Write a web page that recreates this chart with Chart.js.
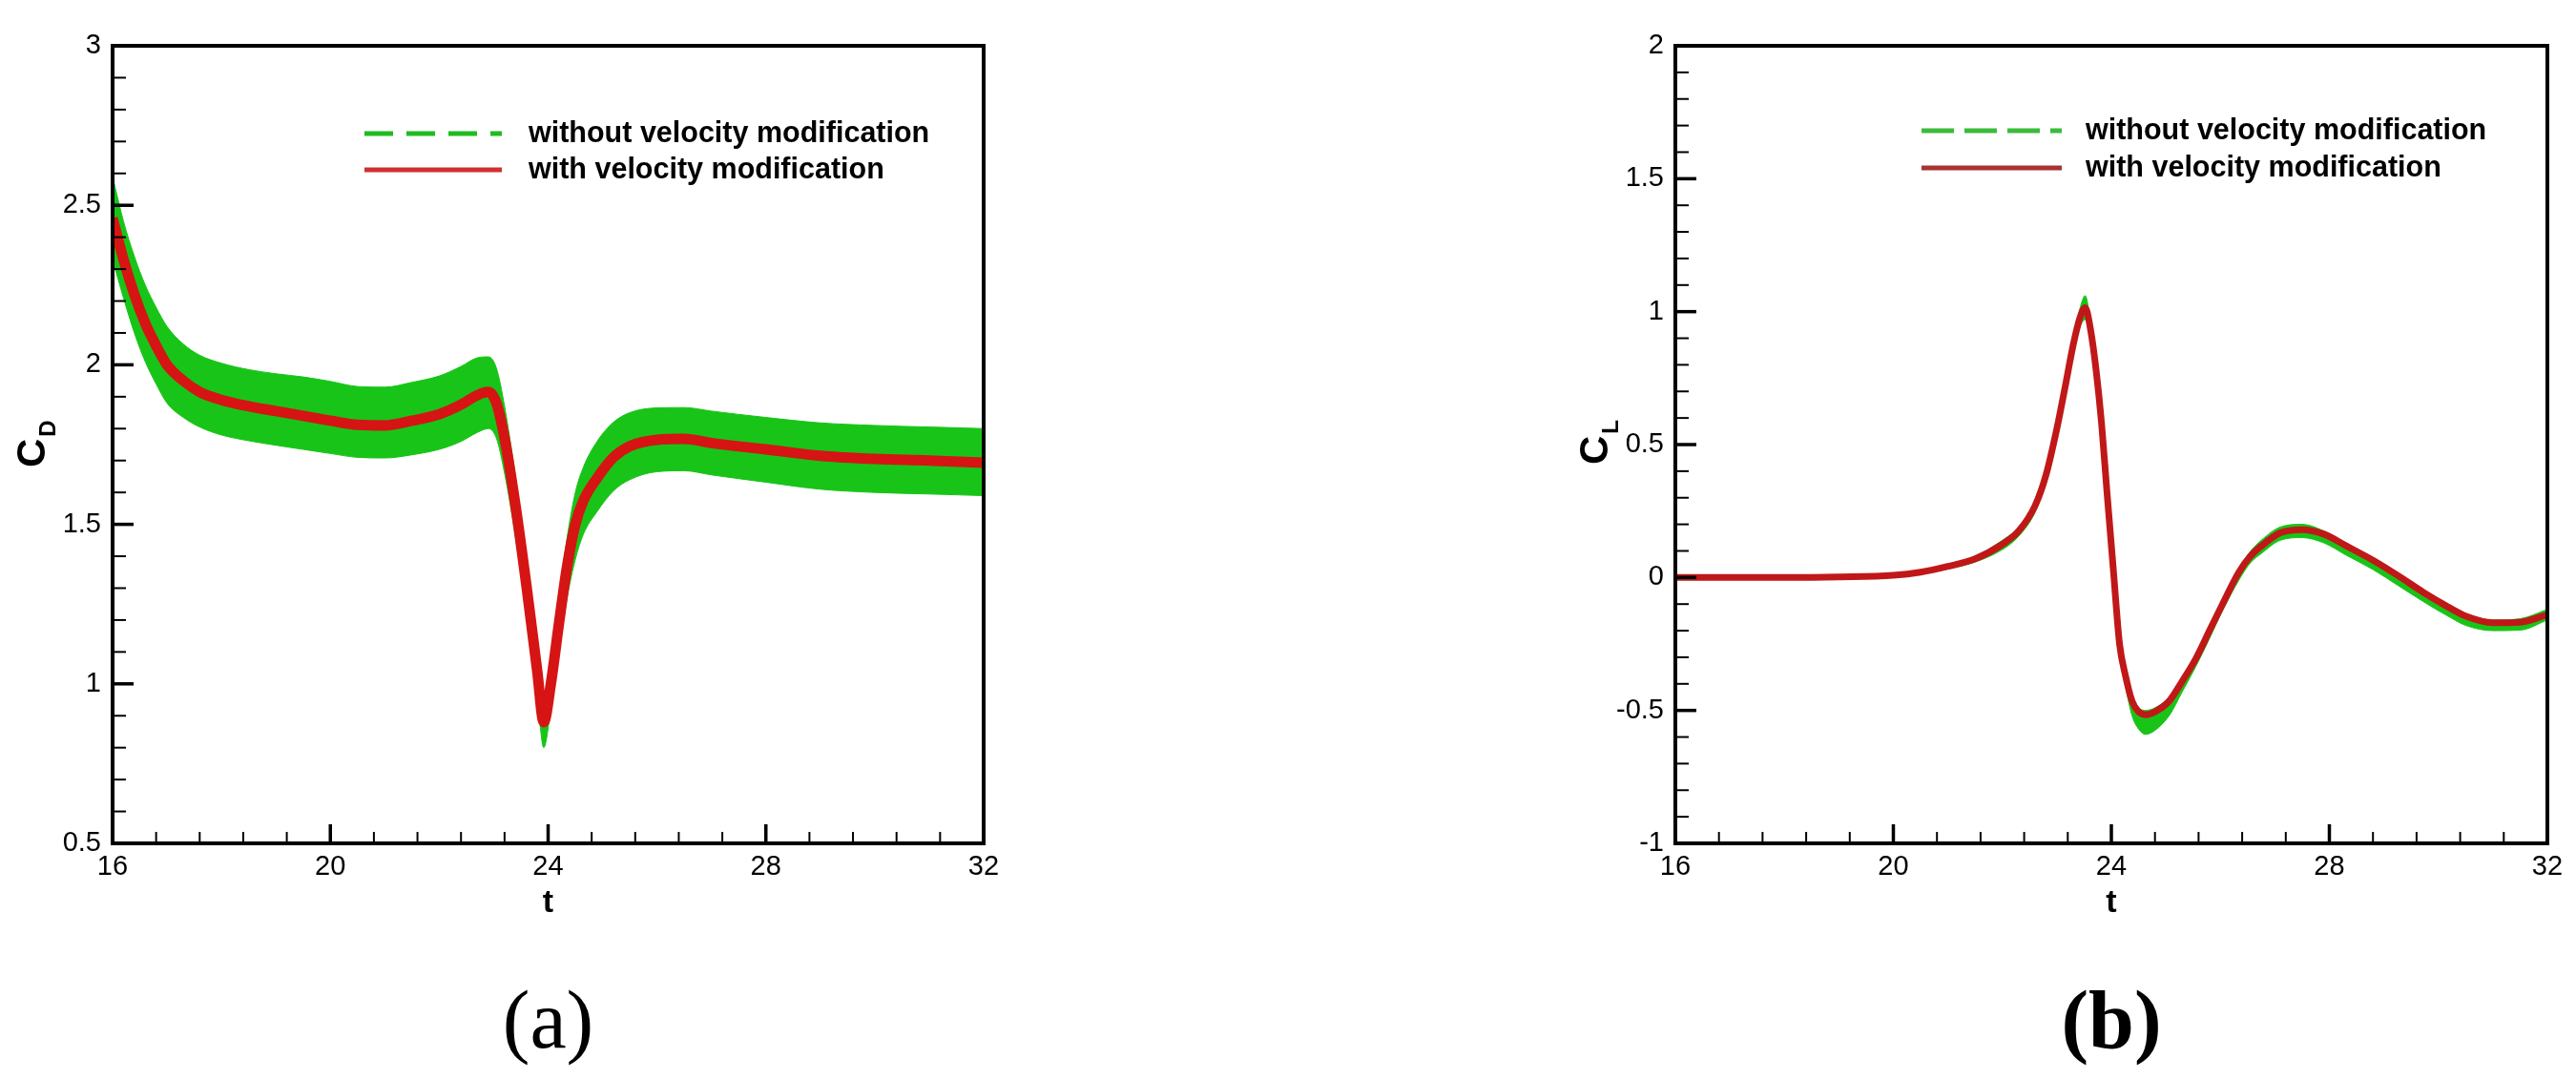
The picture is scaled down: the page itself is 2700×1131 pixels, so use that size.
<!DOCTYPE html>
<html>
<head>
<meta charset="utf-8">
<title>Drag and lift coefficients</title>
<script src="https://cdn.jsdelivr.net/npm/chart.js@4.4.1/dist/chart.umd.min.js"></script>
<style>
html, body { margin:0; padding:0; background:#fff; }
#page { position:relative; width:2700px; height:1131px; overflow:hidden; background:#fff; }
canvas { position:absolute; top:0; }
#cdChart { left:0; }
#clChart { left:1350px; }
</style>
</head>
<body>
<div id="page">
<canvas id="cdChart" width="1350" height="1131"></canvas>
<canvas id="clChart" width="1350" height="1131"></canvas>
</div>
<script>

/* DRAG COEFFICIENT, PANEL (a) */

const cdTime = [16.0, 16.2, 16.4, 16.6, 16.8, 17.0, 17.3, 17.6, 18.0, 18.5, 19.0, 19.5, 20.0, 20.5, 21.0, 21.5, 22.0, 22.4, 22.7, 22.9, 23.05, 23.2, 23.4, 23.6, 23.8, 23.92, 24.05, 24.2, 24.35, 24.5, 24.65, 24.9, 25.2, 25.5, 26.0, 26.5, 27.0, 28.0, 29.0, 30.0, 31.0, 32.0];

const cdWithMod = [2.46, 2.33, 2.22, 2.13, 2.06, 2.00, 1.95, 1.915, 1.89, 1.87, 1.855, 1.84, 1.825, 1.812, 1.81, 1.825, 1.845, 1.875, 1.905, 1.915, 1.88, 1.77, 1.56, 1.31, 1.04, 0.88, 1.00, 1.19, 1.37, 1.50, 1.575, 1.645, 1.71, 1.745, 1.765, 1.768, 1.755, 1.735, 1.715, 1.705, 1.70, 1.693];

// upper and lower edge of the oscillating green band
const cdWithoutHigh = [2.59, 2.45, 2.34, 2.25, 2.18, 2.12, 2.065, 2.03, 2.005, 1.985, 1.972, 1.962, 1.948, 1.932, 1.93, 1.945, 1.965, 1.995, 2.022, 2.025, 1.99, 1.87, 1.65, 1.39, 1.11, 0.95, 1.07, 1.27, 1.46, 1.60, 1.68, 1.76, 1.82, 1.85, 1.865, 1.866, 1.855, 1.835, 1.818, 1.81, 1.805, 1.80];

const cdWithoutLow = [2.33, 2.21, 2.10, 2.01, 1.94, 1.88, 1.835, 1.805, 1.78, 1.762, 1.748, 1.735, 1.722, 1.71, 1.708, 1.718, 1.735, 1.76, 1.788, 1.80, 1.77, 1.66, 1.46, 1.22, 0.96, 0.80, 0.92, 1.10, 1.27, 1.39, 1.47, 1.54, 1.605, 1.64, 1.665, 1.668, 1.655, 1.632, 1.61, 1.60, 1.595, 1.59];


/* LIFT COEFFICIENT, PANEL (b) */

const clTime = [16, 17, 18, 19, 20, 20.5, 21, 21.5, 22, 22.3, 22.6, 22.8, 23.0, 23.15, 23.3, 23.42, 23.52, 23.62, 23.72, 23.82, 23.92, 24.04, 24.15, 24.26, 24.38, 24.5, 24.63, 24.8, 25.06, 25.3, 25.55, 25.8, 26.04, 26.34, 26.55, 26.75, 27.1, 27.5, 27.9, 28.3, 28.8, 29.26, 29.72, 30.13, 30.5, 31.0, 31.5, 32.0];

const clWithMod = [0, 0, 0, 0.002, 0.008, 0.02, 0.042, 0.07, 0.125, 0.175, 0.27, 0.385, 0.56, 0.715, 0.875, 0.975, 1.015, 0.93, 0.78, 0.58, 0.32, 0.02, -0.25, -0.37, -0.465, -0.505, -0.516, -0.505, -0.465, -0.39, -0.305, -0.2, -0.1, 0.02, 0.08, 0.118, 0.168, 0.18, 0.163, 0.12, 0.065, 0.007, -0.055, -0.105, -0.145, -0.17, -0.168, -0.14];

const clWithoutHigh = [0.005, 0.005, 0.005, 0.007, 0.014, 0.027, 0.05, 0.08, 0.14, 0.19, 0.29, 0.405, 0.58, 0.74, 0.9, 1.01, 1.06, 0.96, 0.8, 0.6, 0.34, 0.04, -0.23, -0.355, -0.45, -0.49, -0.5, -0.49, -0.45, -0.375, -0.29, -0.185, -0.085, 0.035, 0.098, 0.14, 0.19, 0.2, 0.175, 0.13, 0.075, 0.017, -0.045, -0.095, -0.135, -0.16, -0.155, -0.12];

const clWithoutLow = [-0.005, -0.005, -0.005, -0.003, 0.002, 0.013, 0.032, 0.058, 0.105, 0.155, 0.245, 0.36, 0.53, 0.69, 0.85, 0.94, 0.97, 0.9, 0.75, 0.55, 0.29, -0.01, -0.28, -0.41, -0.52, -0.57, -0.59, -0.575, -0.52, -0.43, -0.335, -0.23, -0.125, -0.01, 0.055, 0.09, 0.14, 0.15, 0.13, 0.085, 0.03, -0.03, -0.09, -0.14, -0.18, -0.2, -0.198, -0.16];


/* TICK LABELS */

const tTicks = [16, 20, 24, 28, 32];
const cdTicks = [0.5, 1, 1.5, 2, 2.5, 3];
const clTicks = [-1, -0.5, 0, 0.5, 1, 1.5, 2];
const tMinorStep = 0.8;
const coefMinorStep = 0.1;

const seriesNames = ["without velocity modification", "with velocity modification"];

const green = "#18c418";

Chart.defaults.font.family = "'Liberation Sans', Arial, sans-serif";


function toPoints(xs, ys){
return xs.map((x, i) => ({ x: x, y: ys[i] }));
}

function stepValues(min, max, step){
const out = [];
for(let k = 0; ; k++){
const v = Math.round((min + k * step) * 1000) / 1000;
if(v > max + 1e-9) break;
out.push(v);
}
return out;
}

function isMajor(list, v){
return list.some(m => Math.abs(m - v) < 1e-6);
}


/* FRAME, INWARD TICKS, TITLES, LEGEND, CAPTION */

function panelPlugin(p){

return {

id:"panel",

afterDraw(chart){

const ctx = chart.ctx;
const a = chart.chartArea;
const xs = chart.scales.x;
const ys = chart.scales.y;

ctx.save();
ctx.strokeStyle = "#000";
ctx.fillStyle = "#000";

stepValues(xs.min, xs.max, tMinorStep).forEach(v => {
const major = isMajor(tTicks, v);
const px = xs.getPixelForValue(v);
ctx.lineWidth = major ? 3.5 : 2;
ctx.beginPath();
ctx.moveTo(px, a.bottom);
ctx.lineTo(px, a.bottom - (major ? 20 : 12));
ctx.stroke();
});

stepValues(ys.min, ys.max, coefMinorStep).forEach(v => {
const major = isMajor(p.yTicks, v);
const py = ys.getPixelForValue(v);
ctx.lineWidth = major ? 3.5 : 2;
ctx.beginPath();
ctx.moveTo(a.left, py);
ctx.lineTo(a.left + (major ? 22 : 14), py);
ctx.stroke();
});

ctx.lineWidth = 4;
ctx.strokeRect(a.left, a.top, a.right - a.left, a.bottom - a.top);

// x title
ctx.font = "bold 34px 'Liberation Sans'";
ctx.textAlign = "center";
ctx.textBaseline = "alphabetic";
ctx.fillText("t", (a.left + a.right) / 2, 956);

// y title, rotated, with subscript
ctx.save();
ctx.translate(p.yTitleX, p.yTitleY);
ctx.rotate(-Math.PI / 2);
ctx.textAlign = "left";
ctx.font = "bold 42px 'Liberation Sans'";
ctx.fillText("C", 0, 0);
const w = ctx.measureText("C").width;
ctx.font = "bold 24px 'Liberation Sans'";
ctx.fillText(p.ySub, w + 2, 11);
ctx.restore();

// legend
const legendRows = [
{ text:seriesNames[0], color:p.legendGreen, dash:p.dash },
{ text:seriesNames[1], color:p.legendRed, dash:[] }
];
legendRows.forEach((row, i) => {
const y = a.top + p.legendY[i];
ctx.strokeStyle = row.color;
ctx.lineWidth = 5;
ctx.setLineDash(row.dash);
ctx.beginPath();
ctx.moveTo(a.left + p.legendLine[0], y);
ctx.lineTo(a.left + p.legendLine[1], y);
ctx.stroke();
ctx.setLineDash([]);
ctx.fillStyle = "#000";
ctx.font = "bold 30.5px 'Liberation Sans'";
ctx.textAlign = "left";
ctx.textBaseline = "middle";
ctx.fillText(row.text, a.left + p.legendText, y + 1);
});

// caption under the panel
ctx.font = (p.captionBold ? "bold " : "") + "86px 'Liberation Serif'";
ctx.textAlign = "center";
ctx.textBaseline = "alphabetic";
ctx.fillText(p.caption, (a.left + a.right) / 2, 1098);

ctx.restore();

}

};

}


/* ONE PANEL */

function loadPanel(id, p){

const ctx = document.getElementById(id);

if(!ctx) return;

new Chart(ctx,{

type:"line",

data:{

datasets:[

{
label:seriesNames[1],
data:toPoints(p.time, p.withMod),
borderColor:p.red,
borderWidth:p.redWidth,
pointRadius:0,
fill:false,
order:0,
cubicInterpolationMode:"monotone"
},

{
label:seriesNames[0],
data:toPoints(p.time, p.withoutHigh),
borderColor:green,
backgroundColor:green,
borderWidth:1,
pointRadius:0,
fill:"+1",
order:1,
cubicInterpolationMode:"monotone"
},

{
label:"",
data:toPoints(p.time, p.withoutLow),
borderColor:green,
borderWidth:1,
pointRadius:0,
fill:false,
order:2,
cubicInterpolationMode:"monotone"
}

]

},

options:{

responsive:false,
maintainAspectRatio:false,
animation:false,

layout:{ padding:{ left:0, top:48, right:p.padRight, bottom:0 } },

plugins:{
legend:{ display:false },
tooltip:{ enabled:false }
},

scales:{

x:{
type:"linear",
min:16,
max:32,
afterBuildTicks:s => { s.ticks = tTicks.map(v => ({ value:v })); },
afterFit:s => { s.height = 1131 - 884; },
grid:{ display:false, drawTicks:false },
border:{ display:false },
ticks:{ color:"#000", font:{ size:29 }, padding:8, maxRotation:0, autoSkip:false, callback:v => String(v) }
},

y:{
type:"linear",
min:p.yMin,
max:p.yMax,
afterBuildTicks:s => { s.ticks = p.yTicks.map(v => ({ value:v })); },
afterFit:s => { s.width = p.left; },
grid:{ display:false, drawTicks:false },
border:{ display:false },
ticks:{ color:"#000", font:{ size:29 }, padding:12, autoSkip:false, callback:v => String(v) }
}

}

},

plugins:[ panelPlugin(p) ]

});

}


document.addEventListener("DOMContentLoaded", function () {

loadPanel("cdChart", {
time:cdTime, withMod:cdWithMod, withoutHigh:cdWithoutHigh, withoutLow:cdWithoutLow,
yMin:0.5, yMax:3, yTicks:cdTicks,
left:118, padRight:1350 - 1031,
red:"#d61414", redWidth:11,
ySub:"D", yTitleX:47, yTitleY:490,
legendY:[92, 130], legendLine:[264, 408], legendText:436,
legendGreen:"#20bb20", legendRed:"#d03030", dash:[30, 14],
caption:"(a)", captionBold:false
});

loadPanel("clChart", {
time:clTime, withMod:clWithMod, withoutHigh:clWithoutHigh, withoutLow:clWithoutLow,
yMin:-1, yMax:2, yTicks:clTicks,
left:406, padRight:30,
red:"#c01818", redWidth:7,
ySub:"L", yTitleX:335, yTitleY:487,
legendY:[89, 128], legendLine:[258, 405], legendText:430,
legendGreen:"#3cbb3c", legendRed:"#a83232", dash:[34, 11],
caption:"(b)", captionBold:true
});

});

</script>
</body>
</html>
